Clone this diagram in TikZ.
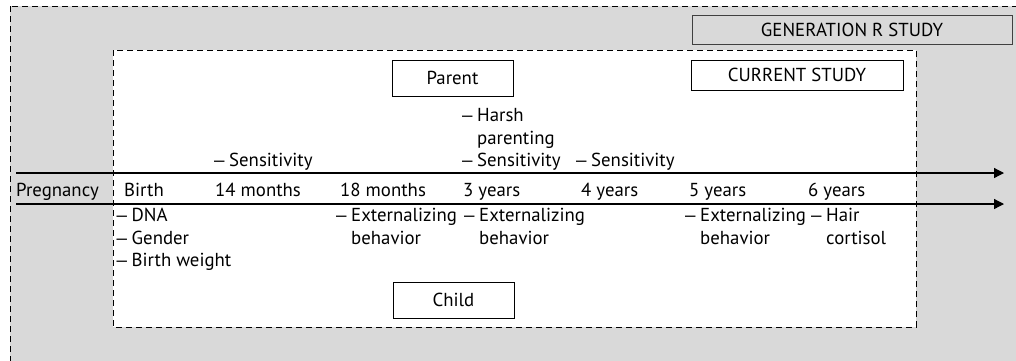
\documentclass[tikz,border=0pt]{standalone}
\usepackage{fontspec}
\setmainfont{PT Sans}
\newfontfamily\dashfont{Liberation Sans}
\usetikzlibrary{arrows.meta}
\definecolor{bg}{HTML}{D9D9D9}
\definecolor{frame}{HTML}{404040}
\newcommand\mlist[1]{\begin{tabular}[t]{@{}l@{}}#1\end{tabular}}
\newcommand\dsh{\makebox[15pt][l]{\dashfont –}}
\newcommand\ind{\hspace*{15pt}}
\begin{document}
\begin{tikzpicture}[x=1pt,y=-1pt,
  lbl/.style={inner sep=0pt, anchor=base west, font=\fontsize{18.8}{22.5}\selectfont},
  tagbox/.style={draw, inner sep=0pt, line width=0.8pt, font=\fontsize{18.8}{22.5}\selectfont},
  dashframe/.style={dash pattern=on 6pt off 4pt, line width=0.9pt},
  timeline/.style={line width=1.2pt, -{Triangle[length=10pt,width=10pt]}}]
\useasboundingbox (0,0) rectangle (1016,360);
\clip (0,0) rectangle (1016,360);
% frames
\draw[dashframe, fill=bg] (10,6) rectangle (1040,390);
\draw[dashframe, fill=white] (113,50) rectangle (916,327);
% title boxes
\node[tagbox, draw=frame, fill=bg, minimum width=320pt, minimum height=29pt] (gen) at (852,29.5) {GENERATION R STUDY};
\node[tagbox, fill=white, minimum width=212pt, minimum height=30pt] (cur) at (797,75) {CURRENT STUDY};
\node[tagbox, fill=white, minimum width=121pt, minimum height=36pt] (parent) at (452.5,78) {Parent};
\node[tagbox, fill=white, minimum width=121pt, minimum height=36pt] (child) at (453.5,300) {Child};
% timelines
\coordinate (t1s) at (16,173);
\coordinate (t1e) at (1004,173);
\coordinate (t2s) at (16,204);
\coordinate (t2e) at (1004,204);
\draw[timeline] (t1s) -- (t1e);
\draw[timeline] (t2s) -- (t2e);
% time points
\node[lbl] (preg) at (16,196) {Pregnancy};
\node[lbl] (birth) at (124,196) {Birth};
\node[lbl] (m14) at (215,196) {14 months};
\node[lbl] (m18) at (340,196) {18 months};
\node[lbl] (y3) at (463,196) {3 years};
\node[lbl] (y4) at (581,196) {4 years};
\node[lbl] (y5) at (689,196) {5 years};
\node[lbl] (y6) at (808,196) {6 years};
% parent measures
\node[lbl] (p14) at (214,166.5) {\dsh Sensitivity};
\node[lbl] (p3) at (462,121.5) {\mlist{\dsh Harsh\\\ind parenting\\\dsh Sensitivity}};
\node[lbl] (p4) at (576,166.5) {\dsh Sensitivity};
% child measures
\node[lbl] (cb) at (116.5,221.5) {\mlist{\dsh DNA\\\dsh Gender\\\dsh Birth weight}};
\node[lbl] (c18) at (336,221.5) {\mlist{\dsh Externalizing\\\ind behavior}};
\node[lbl] (c3) at (464,221.5) {\mlist{\dsh Externalizing\\\ind behavior}};
\node[lbl] (c5) at (685,221.5) {\mlist{\dsh Externalizing\\\ind behavior}};
\node[lbl] (c6) at (811,221.5) {\mlist{\dsh Hair\\\ind cortisol}};
\end{tikzpicture}
\end{document}
